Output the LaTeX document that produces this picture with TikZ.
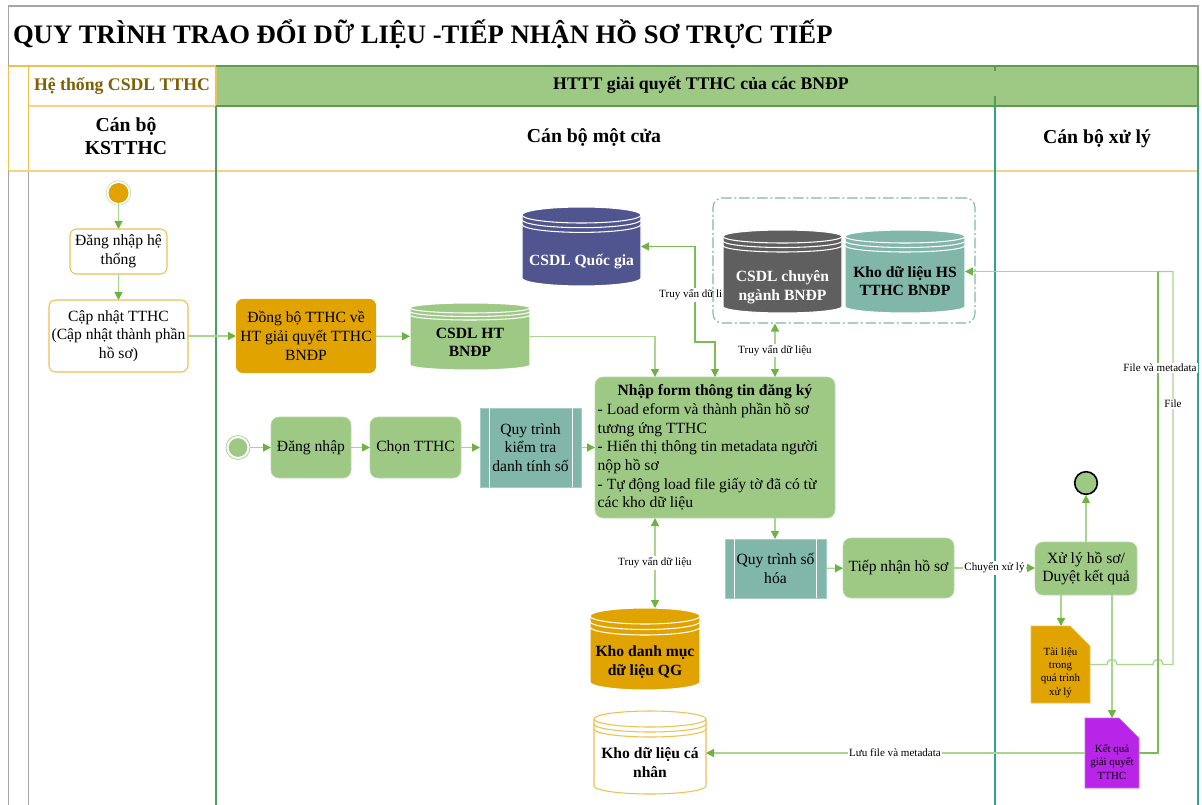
\documentclass[tikz,border=0pt]{standalone}
\usepackage{fontspec}
\setmainfont{Liberation Serif}
\usetikzlibrary{arrows.meta}
\definecolor{cgreen}{HTML}{9DC985}
\definecolor{cdgreen}{HTML}{5E9A50}
\definecolor{corange}{HTML}{E0A300}
\definecolor{cteal}{HTML}{80B7A8}
\definecolor{clane}{HTML}{2CA58A}
\definecolor{cblue}{HTML}{50548F}
\definecolor{cgray}{HTML}{5F5F5F}
\definecolor{cpurple}{HTML}{B825E8}
\definecolor{cyel}{HTML}{F0C050}
\definecolor{cyell}{HTML}{F3D58A}
\definecolor{cframe}{HTML}{A5A5A5}
\definecolor{ctip}{HTML}{6DB33F}
\definecolor{cpale}{HTML}{A9D68F}
\definecolor{cline}{HTML}{7CBB55}
\definecolor{cbrown}{HTML}{7F6000}
\tikzset{
  boxbase/.style={align=center,inner sep=0pt,outer sep=0pt,font=\fontsize{11.7}{14}\selectfont},
  whitebox/.style={boxbase,draw=cyel,fill=white,line width=0.8pt,rounded corners=5pt},
  greenbox/.style={boxbase,draw=cgreen!70!white,fill=cgreen,line width=0.5pt,rounded corners=6pt},
  orangebox/.style={boxbase,fill=corange,rounded corners=5pt},
  tealbox/.style={boxbase,draw=cteal!70!white,fill=cteal,line width=0.5pt},
  dbtxt/.style={boxbase,font=\fontsize{11.7}{14}\selectfont\bfseries},
  doctxt/.style={boxbase,font=\fontsize{8.2}{10}\selectfont},
  lanehead/.style={boxbase,font=\fontsize{14.8}{17}\selectfont\bfseries},
  lanetop/.style={boxbase,font=\fontsize{13.3}{15}\selectfont\bfseries},
  flow/.style={draw=cpale,line width=1pt,-{Triangle[length=6pt,width=6pt,color=ctip]}},
  flowdark/.style={draw=cline,line width=0.8pt},
  flowpale/.style={draw=cpale,line width=1pt},
  flowboth/.style={draw=cline,line width=0.8pt,{Triangle[length=6pt,width=6pt,color=ctip]}-{Triangle[length=6pt,width=6pt,color=ctip]}},
  flowbothpale/.style={draw=cpale,line width=1pt,{Triangle[length=6pt,width=6pt,color=ctip]}-{Triangle[length=6pt,width=6pt,color=ctip]}},
  edgelabel/.style={fill=white,inner xsep=1pt,inner ysep=1pt,font=\fontsize{8.3}{10}\selectfont},
}
\newcommand\pxnode[7]{%
  \pgfmathsetmacro\pxw{(#4-#2)*0.75}\pgfmathsetmacro\pxh{(#5-#3)*0.75}%
  \pgfmathsetmacro\pxcx{(#2+#4)/2}\pgfmathsetmacro\pxcy{(#3+#5)/2}%
  \node[#6,minimum width=\pxw pt,minimum height=\pxh pt] (#1) at (\pxcx,\pxcy) {#7};}
\newcommand\shifted[2]{\raisebox{0pt}[\dimexpr\height+#1\relax][\depth]{\begin{tabular}{@{}c@{}}#2\end{tabular}}}
\newcommand\dbgeom[2]{\def\cry{#1}\def\csp{#2}}
% name x1 y1 x2 y2 fill draw textcolor text
\newcommand\dbcyl[9]{%
  \pgfmathsetmacro\cxm{(#2+#4)/2}\pgfmathsetmacro\cq{(#4-#2)/2*0.55}%
  \pgfmathsetmacro\cyt{#3+\cry}\pgfmathsetmacro\cyb{#5-\cry}%
  \pgfmathsetmacro\cka{#3+0.45*\cry}\pgfmathsetmacro\ckb{#5-0.45*\cry}%
  \draw[fill=#6,draw=#7,line width=0.8pt] (#2,\cyt) .. controls (#2,\cka) and ({\cxm-\cq},#3) .. (\cxm,#3)
     .. controls ({\cxm+\cq},#3) and (#4,\cka) .. (#4,\cyt) -- (#4,\cyb)
     .. controls (#4,\ckb) and ({\cxm+\cq},#5) .. (\cxm,#5)
     .. controls ({\cxm-\cq},#5) and (#2,\ckb) .. (#2,\cyb) -- cycle;
  \foreach \co in {0,1,2}{%
    \pgfmathsetmacro\cya{\cyt+\co*\csp}\pgfmathsetmacro\cyc{\cya+0.55*\cry}\pgfmathsetmacro\cyd{\cya+\cry}%
    \draw[draw=#7,line width=0.8pt] (#2,\cya) .. controls (#2,\cyc) and ({\cxm-\cq},\cyd) .. (\cxm,\cyd)
      .. controls ({\cxm+\cq},\cyd) and (#4,\cyc) .. (#4,\cya);}%
  \pxnode{#1}{#2}{#3}{#4}{#5}{dbtxt,text=#8}{#9}}
\newcommand\docshape[7]{% name x1 y1 x2 y2 fill text ; cut corner
  \pgfmathsetmacro\dxa{#4-20}\pgfmathsetmacro\dya{#3+20}%
  \draw[fill=#6,draw=#6!70!white,line width=0.5pt] (#2,#3) -- (\dxa,#3) -- (#4,\dya) -- (#4,#5) -- (#2,#5) -- cycle;
  \pxnode{#1}{#2}{#3}{#4}{#5}{doctxt}{#7}}
\begin{document}
\begin{tikzpicture}[x=0.75pt,y=-0.75pt]
\useasboundingbox (0,0) rectangle (1202,805);
\fill[white] (0,0) rectangle (1202,805);
% swimlane frame
\fill[cgreen] (216,66) rectangle (1198,106);
\draw[cframe,line width=1pt] (8.5,805) -- (8.5,6) -- (1198,6) -- (1198,66);
\draw[cframe,line width=0.8pt] (28.5,171) -- (28.5,805);
\draw[cyel,line width=1pt] (8.5,66) -- (216,66) (8.5,66) -- (8.5,171) (28.5,66) -- (28.5,171) (216,66) -- (216,106);
\draw[cyell,line width=1pt] (28.5,106) -- (216,106) (8.5,171) -- (1198,171);
\draw[cdgreen,line width=1pt] (216,66) -- (1198,66) (216,106) -- (1198,106) (1198,66) -- (1198,106);
\draw[clane,line width=1.2pt] (1198,106) -- (1198,805);
\draw[clane,line width=1.2pt] (995,96) -- (995,805);
\draw[cdgreen,line width=1pt] (995,66) -- (995,71);
\draw[cdgreen,line width=1pt] (995,96) -- (995,106);
\draw[cdgreen!70!clane,line width=1.4pt] (216,106) -- (216,805);
\node[boxbase,anchor=west,font=\fontsize{20}{24}\selectfont\bfseries] (title) at (13,34) {QUY TRÌNH TRAO ĐỔI DỮ LIỆU -TIẾP NHẬN HỒ SƠ TRỰC TIẾP};
\node[lanetop,text=cbrown] (lane1) at (122,86) {Hệ thống CSDL TTHC};
\node[lanetop] (lane2) at (701,85) {HTTT giải quyết TTHC của các BNĐP};
\node[lanehead] (role1) at (126,136) {Cán bộ\\KSTTHC};
\node[lanehead] (role2) at (594,137) {Cán bộ một cửa};
\node[lanehead] (role3) at (1097,139) {Cán bộ xử lý};
% axis helpers
\coordinate (xa) at (655,0);
\coordinate (xb) at (775,0);
\coordinate (xc) at (1086,0);
\coordinate (xd) at (1061,0);
\coordinate (xe) at (1112,0);
\coordinate (xf) at (1158,0);
\coordinate (xg) at (1173,0);
\coordinate (c1) at (695,342);
\coordinate (c2) at (715,342);
\coordinate (j1a) at (1107,664.5);
\coordinate (j1b) at (1117,664.5);
\coordinate (j2a) at (1153,664.5);
\coordinate (j2b) at (1163,664.5);
% form and national db, then the connector that runs behind the group
\pxnode{form}{595}{377}{835}{518}{greenbox,align=left}{\makebox[176pt]{\bfseries Nhập form thông tin đăng ký}\\- Load eform và thành phần hồ sơ\\tương ứng TTHC\\- Hiển thị thông tin metadata người\\nộp hồ sơ\\- Tự động load file giấy tờ đã có từ\\các kho dữ liệu}
\dbgeom{8}{4.7}
\dbcyl{qg}{522}{207}{641}{286}{cblue}{white}{white}{\shifted{23pt}{CSDL Quốc gia}}
\draw[flowboth] (qg.east) -| (c1) -- (c2) -- (c2 |- form.north);
\node[edgelabel] (lq) at (696,295) {Truy vấn dữ liệu};
% dashed group
\pxnode{grp}{713}{198}{975}{323}{draw=cteal,line width=0.8pt,dash pattern=on 8pt off 2pt on 1.5pt off 2pt,rounded corners=7pt}{}
% start 1
\node[circle,draw=cgreen!60!white,line width=0.5pt,fill=white,minimum size=18.5pt,inner sep=0pt] (s1ring) at (118.5,193) {};
\node[circle,fill=corange,minimum size=15pt,inner sep=0pt] (s1) at (118.5,193) {};
\pxnode{login1}{70}{229}{167}{274}{whitebox}{Đăng nhập hệ\\thống}
\pxnode{update}{49}{300}{188}{372}{whitebox}{Cập nhật TTHC\\(Cập nhật thành phần\\hồ sơ)}
\pxnode{sync}{236}{299}{376}{373}{orangebox}{Đồng bộ TTHC về\\HT giải quyết TTHC\\BNĐP}
\dbgeom{5}{3.5}
\dbcyl{csdlHT}{410}{303}{530}{370}{cgreen}{white}{black}{\shifted{11pt}{CSDL HT\\BNĐP}}
\dbgeom{6.5}{4.5}
\dbcyl{cn}{723}{230}{842}{313}{cgray}{white}{white}{\shifted{24pt}{CSDL chuyên\\ngành BNĐP}}
\dbcyl{kho}{845}{230}{965}{313}{cteal}{white}{black}{\shifted{17pt}{Kho dữ liệu HS\\TTHC BNĐP}}
\dbgeom{8}{5.5}
\dbcyl{khoQG}{590}{608}{700}{690}{corange}{white}{black}{\shifted{20pt}{Kho danh mục\\dữ liệu QG}}
\dbgeom{8}{5}
\dbcyl{khoCN}{594}{711}{706}{794}{white}{cyel}{black}{\shifted{18pt}{Kho dữ liệu cá\\nhân}}
% second row
\node[circle,draw=cgreen,line width=0.5pt,fill=white,minimum size=18pt,inner sep=0pt] (s2ring) at (238,447.5) {};
\node[circle,fill=cgreen,minimum size=14pt,inner sep=0pt] (s2) at (238,447.5) {};
\pxnode{dangnhap}{271}{417}{351}{478}{greenbox}{Đăng nhập}
\pxnode{chon}{370}{417}{461}{478}{greenbox}{Chọn TTHC}
\pxnode{ktra}{480}{408}{581}{487}{tealbox}{Quy trình\\kiểm tra\\danh tính số}
\draw[white,line width=0.6pt] (489.5,408) -- (489.5,487) (572,408) -- (572,487);
\pxnode{sohoa}{725}{539}{826}{598}{tealbox}{Quy trình số\\hóa}
\draw[white,line width=0.6pt] (734.5,539) -- (734.5,598) (816,539) -- (816,598);
\pxnode{tiepnhan}{843}{538}{954}{598}{greenbox}{Tiếp nhận hồ sơ}
\pxnode{xuly}{1035}{542}{1137}{595}{greenbox}{Xử lý hồ sơ/\\Duyệt kết quả}
\node[circle,draw=black,line width=1.2pt,fill=cgreen,minimum size=17pt,inner sep=0pt] (endn) at (1086,483) {};
\docshape{tailieu}{1031}{626}{1090}{703}{corange}{\shifted{12pt}{Tài liệu\\trong\\quá trình\\xử lý}}
\docshape{ketqua}{1085}{718}{1139}{788}{cpurple}{\shifted{15pt}{Kết quả\\giải quyết\\TTHC}}
% connectors
\draw[flow] (s1) -- (login1);
\draw[flow] (login1) -- (update);
\draw[flow] (update) -- (sync);
\draw[flow] (sync) -- (csdlHT);
\draw[flow] (csdlHT.east) -| (xa |- form.north);
\draw[flow] (s2ring) -- (dangnhap);
\draw[flow] (dangnhap) -- (chon);
\draw[flow] (chon) -- (ktra);
\draw[flow] (ktra) -- (form.west |- ktra);
\draw[flowbothpale] (xb |- form.north) -- (xb |- grp.south) node[midway,edgelabel] (lcn) {Truy vấn dữ liệu};
\draw[flowbothpale] (xa |- form.south) -- (xa |- khoQG.north) node[midway,edgelabel] (lqg) {Truy vấn dữ liệu};
\draw[flow] (xb |- form.south) -- (xb |- sohoa.north);
\draw[flow] (sohoa) -- (tiepnhan);
\draw[flow] (tiepnhan.east) -- (xuly.west |- tiepnhan.east) node[midway,edgelabel] (lxl) {Chuyển xử lý};
\draw[flow] (xc |- xuly.north) -- (endn.south);
\draw[flow] (xd |- xuly.south) -- (xd |- tailieu.north);
\draw[flow] (xe |- xuly.south) -- (xe |- ketqua.north);
\draw[flowpale] (tailieu.east) -- (j1a) .. controls (1108,657.5) and (1116,657.5) .. (j1b) -- (j2a) .. controls (1154,657.5) and (1162,657.5) .. (j2b) -- (xg |- j2b) -- (xg |- kho.east) -- (xf |- kho.east);
\draw[flowdark] (ketqua.east) -- (xf |- ketqua.east) -- (xf |- kho.east);
\draw[flow] (xf |- kho.east) -- (kho.east);
\draw[flow] (ketqua.west) -- (khoCN.east |- ketqua.west);
\node[edgelabel] (lfm) at (1160,368) {File và metadata};
\node[edgelabel] (lf) at (1173,404) {File};
\node[edgelabel] (lluu) at (895,753) {Lưu file và metadata};
\end{tikzpicture}
\end{document}
